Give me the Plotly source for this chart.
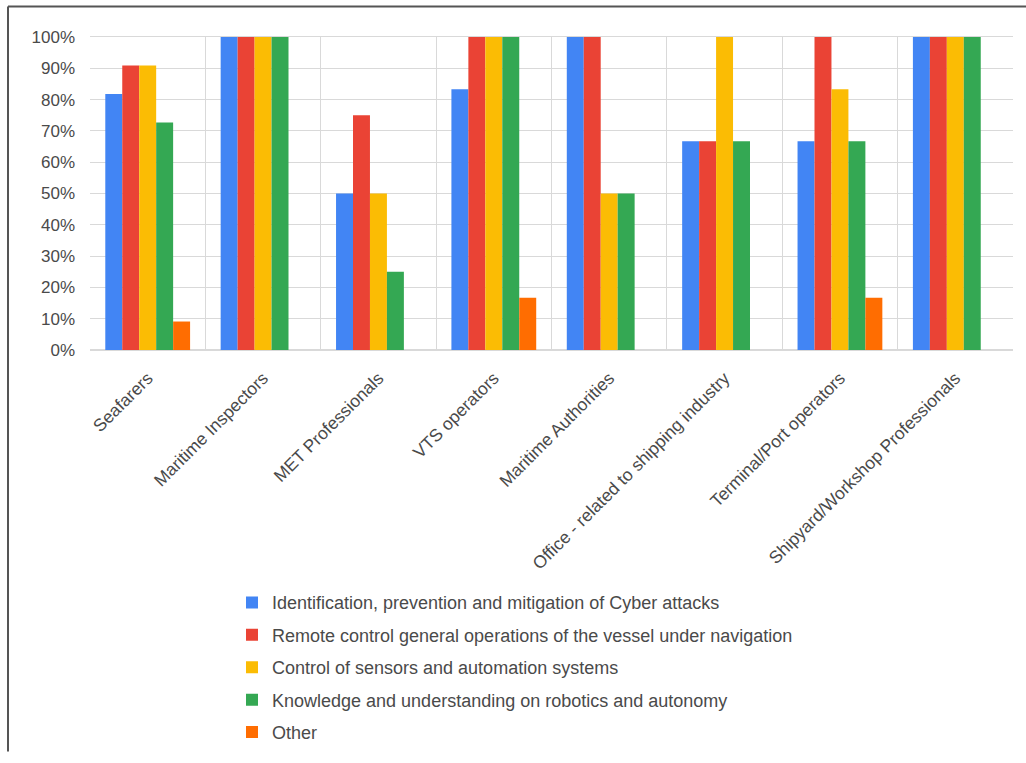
import plotly.graph_objects as go

categories = [
    "Seafarers",
    "Maritime Inspectors",
    "MET Professionals",
    "VTS operators",
    "Maritime Authorities",
    "Office - related to shipping industry",
    "Terminal/Port operators",
    "Shipyard/Workshop Professionals",
]

series_names = [
    "Identification, prevention and mitigation of Cyber attacks",
    "Remote control general operations of the vessel under navigation",
    "Control of sensors and automation systems",
    "Knowledge and understanding on robotics and autonomy",
    "Other",
]

cyber = [81.8, 100, 50, 83.3, 100, 66.7, 66.7, 100]
remote = [90.9, 100, 75, 100, 100, 66.7, 100, 100]
sensors = [90.9, 100, 50, 100, 50, 100, 83.3, 100]
robotics = [72.7, 100, 25, 100, 50, 66.7, 66.7, 100]
other = [9.1, 0, 0, 16.7, 0, 0, 16.7, 0]

y_ticks = [0, 10, 20, 30, 40, 50, 60, 70, 80, 90, 100]
y_tick_text = [f"{v}%" for v in y_ticks]

colors = ["#4285F4", "#EA4335", "#FBBC04", "#34A853", "#FF6D01"]

fig = go.Figure()
for i, (name, vals) in enumerate(zip(series_names, [cyber, remote, sensors, robotics, other])):
    fig.add_trace(go.Bar(
        x=categories, y=vals, name=name,
        marker=dict(color=colors[i], line=dict(width=0)),
        legendgroup=f"g{i}",
    ))

W, H = 1026, 763
L, R, T, B = 90, 13, 37, 408
pw, ph = W - L - R, H - T - B

def px_x(p):
    return (p - L) / pw

def px_y(p):
    return (H - B - p) / ph

fig.update_layout(
    width=W, height=H,
    margin=dict(l=L, r=R, t=T, b=B),
    paper_bgcolor="white", plot_bgcolor="white",
    barmode="group", bargap=0.265, bargroupgap=0,
    font=dict(family="Liberation Sans, Arial, sans-serif", size=17, color="#4a4a4a"),
    xaxis=dict(
        type="category", tickson="boundaries", tickangle=-45,
        showgrid=True, gridcolor="#d9d9d9", gridwidth=1,
        ticks="", showline=True, linecolor="#d9d9d9", mirror=True,
        tickfont=dict(size=17.5, color="#4a4a4a"),
        ticklabelstandoff=10,
    ),
    yaxis=dict(
        range=[0, 100], tickvals=y_ticks, ticktext=y_tick_text,
        showgrid=True, gridcolor="#d9d9d9", gridwidth=1,
        zeroline=True, zerolinecolor="#d9d9d9", ticks="",
        tickfont=dict(size=17, color="#4a4a4a"),
        ticklabelstandoff=14,
    ),
    legend=dict(
        x=px_x(232), y=px_y(593), xanchor="left", yanchor="top",
        orientation="v", traceorder="grouped", tracegroupgap=6,
        font=dict(size=18, color="#4a4a4a"), itemwidth=30,
        bgcolor="rgba(0,0,0,0)",
    ),
    shapes=[
        dict(type="line", xref="paper", yref="paper",
             x0=px_x(8), x1=px_x(1026), y0=px_y(6), y1=px_y(6),
             line=dict(color="#555555", width=2)),
        dict(type="line", xref="paper", yref="paper",
             x0=px_x(8), x1=px_x(8), y0=px_y(6), y1=px_y(763),
             line=dict(color="#555555", width=2)),
    ],
)

fig.write_html("out.html")
